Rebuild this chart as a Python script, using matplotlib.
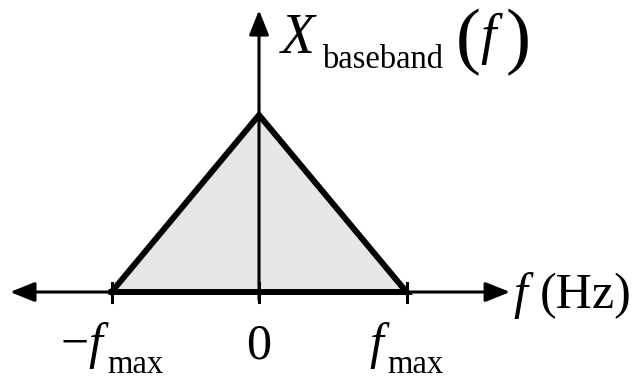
import matplotlib
matplotlib.use("Agg")
import matplotlib.pyplot as plt
from matplotlib.patches import Polygon
from matplotlib.transforms import offset_copy

plt.rcParams["mathtext.fontset"] = "custom"
plt.rcParams["mathtext.rm"] = "Liberation Serif"
plt.rcParams["mathtext.it"] = "Liberation Serif:italic"
plt.rcParams["font.family"] = "Liberation Serif"

# Triangular baseband spectrum (normalized: f_max = 1, peak = 1)
freq = [-1.0, 0.0, 1.0]
magnitude = [0.0, 1.0, 0.0]
tick_pos = [-1.0, 0.0, 1.0]
# each tick label: (main text, subscript)
tick_labels = [(r"$-f$", "max"), (r"$0$", ""), (r"$f$", "max")]

MAIN = 36      # main label size (pt)
SUB = 23.5     # subscript size (pt)
SUB_DROP = -15 # subscript baseline shift (px)

fig = plt.figure(figsize=(6.35, 3.79), dpi=100)
ax = fig.add_axes([0, 0, 1, 1])
ax.set_xlim(-1.756, 2.549)
ax.set_ylim(-0.4915, 1.650)
ax.axis("off")
renderer = fig.canvas.get_renderer()


def text_row(x, y, pieces, align="left"):
    """Lay out (text, size, dy_px, gap_px) pieces on one baseline."""
    items, cursor = [], 0.0
    for s, size, dy, gap in pieces:
        t = ax.text(x, y, s, ha="left", va="baseline", fontsize=size)
        cursor += gap
        items.append((t, cursor, dy))
        cursor += t.get_window_extent(renderer).width
    shift = -cursor / 2 if align == "center" else 0.0
    for t, off, dy in items:
        t.set_transform(offset_copy(ax.transData, fig, x=off + shift, y=dy, units="dots"))
    return items


# shaded spectrum
ax.add_patch(Polygon(list(zip(freq, magnitude)), closed=True,
                     facecolor="#e6e6e6", edgecolor="none", zorder=1))

head = dict(arrowstyle="-|>,head_length=1.5,head_width=0.6",
            lw=2.2, color="black", shrinkA=0, shrinkB=0)
# frequency axis (double-headed)
ax.annotate("", xy=(1.702, 0), xytext=(1.0, 0), arrowprops=head, zorder=2)
ax.annotate("", xy=(-1.688, 0), xytext=(-1.0, 0), arrowprops=head, zorder=2)
# vertical axis
ax.annotate("", xy=(0, 1.593), xytext=(0, -0.045), arrowprops=head, zorder=2)

# ticks
for t in tick_pos:
    ax.plot([t, t], [-0.055, 0.05], color="black", lw=2.2, zorder=3)

# outline of the spectrum
ax.plot(freq + [freq[0]], magnitude + [magnitude[0]], color="black", lw=4.3,
        solid_joinstyle="miter", zorder=4)

# tick labels
for t, (main, sub) in zip(tick_pos, tick_labels):
    pieces = [(main, MAIN, 0, 0)]
    if sub:
        pieces.append((sub, SUB, SUB_DROP, -3))
    text_row(t, -0.373, pieces, align="center")

# frequency-axis label
text_row(1.722, -0.090, [(r"$f$", MAIN, 0, 0), ("(Hz)", MAIN, 0, 5)])

# spectrum label X_baseband(f)
text_row(0.135, 1.350, [
    (r"$X$", 40, 0, 0),
    ("baseband", SUB, SUB_DROP, 4),
    ("(", 54, -7, 12),
    (r"$f$", 40, 0, 0),
    (")", 54, -7, 1),
])

fig.savefig("out.png", dpi=100)
